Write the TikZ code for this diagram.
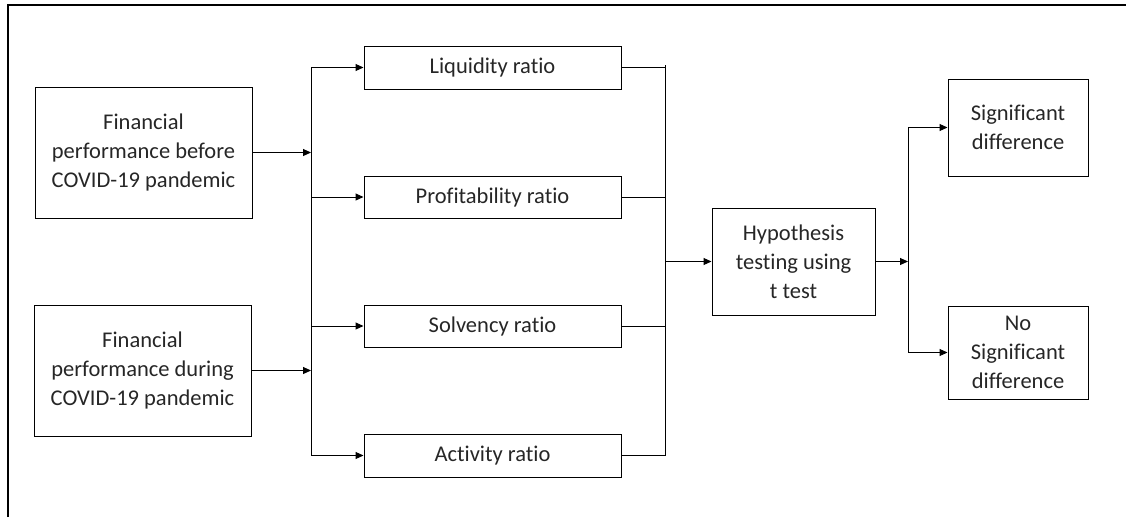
\documentclass[tikz,border=0pt]{standalone}
\usepackage{fontspec}
\setmainfont{Carlito}[Ligatures=NoCommon]
\usetikzlibrary{arrows.meta}
\begin{document}
\begin{tikzpicture}[x=1pt,y=-1pt,
  box/.style={draw,line width=1pt,inner sep=0pt,align=center,text=black!85,font=\fontsize{22.5}{29}\selectfont},
  conn/.style={line width=1pt},
  arr/.style={conn,-{Triangle[length=8pt,width=7pt]}}]
\useasboundingbox (0,0) rectangle (1126,517);
\draw[line width=2.5pt] (8,517) -- (8,5) -- (1126,5);

\node[box,minimum width=217pt,minimum height=131pt] (before) at (143.5,152.5) {Financial\\performance before\\COVID-19 pandemic};
\node[box,minimum width=217pt,minimum height=131pt] (during) at (142.5,370.5) {Financial\\performance during\\COVID-19 pandemic};

\node[box,minimum width=257pt,minimum height=43pt] (liq) at (492.5,67.5) {Liquidity ratio};
\node[box,minimum width=257pt,minimum height=42pt] (prof) at (492.5,197) {Profitability ratio};
\node[box,minimum width=257pt,minimum height=42pt] (solv) at (492.5,326) {Solvency ratio};
\node[box,minimum width=257pt,minimum height=43pt] (act) at (492.5,455.5) {Activity ratio};

\node[box,minimum width=163pt,minimum height=107pt] (hyp) at (793.5,261.5) {Hypothesis\\testing using\\t test};

\node[box,minimum width=140pt,minimum height=97pt] (sig) at (1018,127.5) {Significant\\difference};
\node[box,minimum width=140pt,minimum height=93pt] (nosig) at (1018,352.5) {No\\Significant\\difference};

\coordinate (lbus) at (311,0);
\coordinate (rbus) at (665,0);
\coordinate (obus) at (908,0);

% left bus
\draw[conn] (lbus |- liq.west) -- (lbus |- act.west);
\draw[arr] (before.east) -- (before.east -| lbus);
\draw[arr] (during.east) -- (during.east -| lbus);
\foreach \n in {liq,prof,solv,act}
  \draw[arr] (\n.west -| lbus) -- (\n.west);

% right bus
\draw[conn] (665,65) -- (rbus |- act.east);
\foreach \n in {liq,prof,solv,act}
  \draw[conn] (\n.east) -- (\n.east -| rbus);
\draw[arr] (hyp.west -| rbus) -- (hyp.west);

% output bus
\draw[arr] (hyp.east) -- (hyp.east -| obus);
\draw[conn] (obus |- sig.west) -- (obus |- nosig.west);
\draw[arr] (sig.west -| obus) -- (sig.west);
\draw[arr] (nosig.west -| obus) -- (nosig.west);
\end{tikzpicture}
\end{document}
